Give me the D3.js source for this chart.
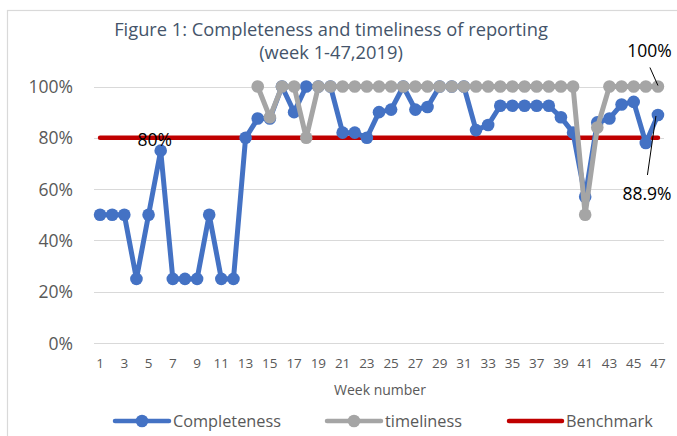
<!DOCTYPE html>
<html>
<head>
<meta charset="utf-8">
<script src="https://cdn.jsdelivr.net/npm/d3@7/dist/d3.min.js"></script>
<style>
  html, body { margin: 0; padding: 0; background: #fff; }
  svg { display: block; font-family: "Open Sans", "Noto Sans", sans-serif; }
</style>
</head>
<body>
<svg id="chart" width="677" height="436"></svg>
<script>
const weeks = d3.range(1, 48);
const completeness = [50, 50, 50, 25, 50, 75, 25, 25, 25, 50,
  25, 25, 80, 87.5, 87.5, 100, 90, 100, 100, 100,
  82, 82, 80, 90, 91, 100, 91, 92, 100, 100,
  100, 83, 85, 92.5, 92.5, 92.5, 92.5, 92.5, 88, 82,
  57, 86, 87.5, 93, 94, 78, 88.9];
const timeliness = [null, null, null, null, null, null, null, null, null, null,
  null, null, null, 100, 88, 100, 100, 80, 100, 100,
  100, 100, 100, 100, 100, 100, 100, 100, 100, 100,
  100, 100, 100, 100, 100, 100, 100, 100, 100, 100,
  50, 84, 100, 100, 100, 100, 100];
const benchmark = weeks.map(() => 80);
const yTicks = [0, 20, 40, 60, 80, 100];
const xTickWeeks = weeks.filter(w => w % 2 === 1);
const titleLines = ["Figure 1: Completeness and timeliness of reporting", "(week 1-47,2019)"];
const seriesNames = ["Completeness", "timeliness", "Benchmark"];

const svg = d3.select("#chart");
const colors = { c: "#4472C4", t: "#A5A5A5", b: "#C00000" };

// chart frame
svg.append("rect").attr("x", 7.5).attr("y", 10.5).attr("width", 720).attr("height", 500)
  .attr("fill", "none").attr("stroke", "#D9D9D9").attr("stroke-width", 1.2);

const x = d3.scaleBand().domain(weeks).range([94, 664]).paddingInner(0).paddingOuter(0);
const cx = w => x(w) + x.bandwidth() / 2;
const y = d3.scaleLinear().domain([0, 100]).range([343, 86.5]);

// gridlines
svg.append("g").selectAll("line").data(yTicks).join("line")
  .attr("x1", 94).attr("x2", 664)
  .attr("y1", d => Math.round(y(d)) + 0.5).attr("y2", d => Math.round(y(d)) + 0.5)
  .attr("stroke", "#D9D9D9").attr("stroke-width", 1);

// y tick labels
svg.append("g").selectAll("text").data(yTicks).join("text")
  .attr("x", 73).attr("y", d => y(d) + 6.5)
  .attr("text-anchor", "end").attr("font-size", 17.5).attr("fill", "#595959")
  .text(d => d + "%");

// x tick labels
svg.append("g").selectAll("text").data(xTickWeeks).join("text")
  .attr("x", d => cx(d)).attr("y", 368)
  .attr("text-anchor", "middle").attr("font-size", 13.5).attr("fill", "#595959")
  .text(d => d);

svg.append("text").attr("x", 380).attr("y", 395).attr("text-anchor", "middle")
  .attr("font-size", 14).attr("fill", "#595959").text("Week number");

// title
const titleG = svg.append("g");
titleLines.forEach((t, i) => {
  titleG.append("text").attr("x", 331).attr("y", 36 + i * 23)
    .attr("text-anchor", "middle").attr("font-size", 18.3).attr("fill", "#44546A").text(t);
});

const line = d3.line().defined(d => d.v != null).x(d => cx(d.w)).y(d => y(d.v));
const toPts = arr => weeks.map((w, i) => ({ w, v: arr[i] }));

// benchmark
svg.append("path").datum(toPts(benchmark)).attr("d", line)
  .attr("fill", "none").attr("stroke", colors.b).attr("stroke-width", 4.5).attr("stroke-linecap", "round");

function drawSeries(arr, col) {
  const pts = toPts(arr);
  svg.append("path").datum(pts).attr("d", line)
    .attr("fill", "none").attr("stroke", col).attr("stroke-width", 5).attr("stroke-linejoin", "round");
  svg.append("g").selectAll("circle").data(pts.filter(d => d.v != null)).join("circle")
    .attr("cx", d => cx(d.w)).attr("cy", d => y(d.v)).attr("r", 6.3).attr("fill", col);
}
drawSeries(completeness, colors.c);
drawSeries(timeliness, colors.t);

// annotations
svg.append("text").attr("x", (cx(5) + cx(6)) / 2).attr("y", y(80) + 8).attr("text-anchor", "middle")
  .attr("font-size", 17.5).attr("fill", "#000").text("80%");

const lastW = 47;
svg.append("line").attr("x1", cx(lastW) - 8).attr("y1", y(timeliness[46]) - 19)
  .attr("x2", cx(lastW)).attr("y2", y(timeliness[46]) - 1).attr("stroke", "#000").attr("stroke-width", 1);
svg.append("text").attr("x", cx(lastW) - 8.5).attr("y", y(timeliness[46]) - 29.5).attr("text-anchor", "middle")
  .attr("font-size", 17.5).attr("fill", "#000").text("100%");

svg.append("line").attr("x1", cx(lastW) - 2).attr("y1", y(completeness[46]) + 1)
  .attr("x2", cx(lastW) - 10.5).attr("y2", y(completeness[46]) + 60).attr("stroke", "#000").attr("stroke-width", 1);
svg.append("text").attr("x", cx(lastW) - 11).attr("y", y(completeness[46]) + 85).attr("text-anchor", "middle")
  .attr("font-size", 17.5).attr("fill", "#000").text("88.9%");

// legend
const legend = [
  { name: seriesNames[0], col: colors.c, x1: 115, x2: 169, marker: true, tx: 173 },
  { name: seriesNames[1], col: colors.t, x1: 327, x2: 381, marker: true, tx: 385 },
  { name: seriesNames[2], col: colors.b, x1: 509, x2: 562, marker: false, tx: 566 }
];
const lg = svg.append("g");
legend.forEach(d => {
  lg.append("line").attr("x1", d.x1).attr("x2", d.x2).attr("y1", 421).attr("y2", 421)
    .attr("stroke", d.col).attr("stroke-width", 4.5).attr("stroke-linecap", "round");
  if (d.marker) lg.append("circle").attr("cx", (d.x1 + d.x2) / 2).attr("cy", 421).attr("r", 6.3).attr("fill", d.col);
  lg.append("text").attr("x", d.tx).attr("y", 427).attr("font-size", 16.3).attr("fill", "#595959").text(d.name);
});
</script>
</body>
</html>
